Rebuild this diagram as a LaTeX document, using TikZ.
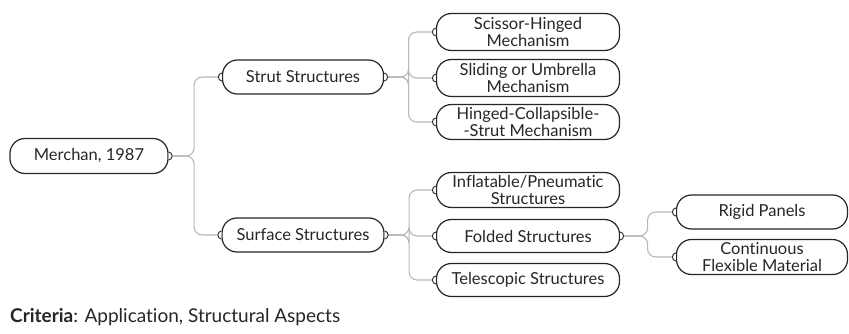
\documentclass[tikz,border=0pt]{standalone}
\usepackage{fontspec}
\setmainfont{Lato}[Ligatures=NoCommon]
\usetikzlibrary{calc}
\tikzset{
  x=1pt, y=-1pt,
  box/.style={draw=black!85, line width=1.2pt, rounded corners=15pt,
    fill=white, align=center, inner sep=0pt, text=black!85,
    font=\fontsize{16.5}{17.5}\selectfont},
  conn/.style={draw=black!28, line width=1.1pt, rounded corners=8pt},
  hdl/.style={draw=black!85, line width=0.9pt, fill=white},
}
% small attachment handles on the box ends
\newcommand{\lhandle}[1]{\draw[hdl] ($(#1.west)+(0,-4)$) arc[start angle=90, end angle=270, x radius=3.5pt, y radius=4pt];}
\newcommand{\rhandle}[1]{\draw[hdl] ($(#1.east)+(0,-4)$) arc[start angle=90, end angle=-90, x radius=3.5pt, y radius=4pt];}
\begin{document}
\begin{tikzpicture}
\useasboundingbox (0,0) rectangle (849,334);

% root
\node[box, minimum width=158pt, minimum height=35pt] (m) at (89,156) {Merchan, 1987};

% first level
\node[box, minimum width=161pt, minimum height=34pt] (s1) at (303,77) {Strut Structures};
\node[box, minimum width=162pt, minimum height=34pt] (s2) at (303,235) {Surface Structures};

% strut branch
\node[box, minimum width=183pt, minimum height=37pt] (a1) at (528,32) {Scissor-Hinged\\Mechanism};
\node[box, minimum width=183pt, minimum height=37pt] (a2) at (528,78) {Sliding or Umbrella\\Mechanism};
\node[box, minimum width=183pt, minimum height=35pt] (a3) at (528,122) {Hinged-Collapsible-\\-Strut Mechanism};

% surface branch
\node[box, minimum width=183pt, minimum height=35pt] (b1) at (528,190) {Inflatable/Pneumatic\\Structures};
\node[box, minimum width=183pt, minimum height=33pt] (b2) at (528,236) {Folded Structures};
\node[box, minimum width=183pt, minimum height=33pt] (b3) at (528,280) {Telescopic Structures};

% folded branch
\node[box, minimum width=171pt, minimum height=34pt] (c1) at (762,212) {Rigid Panels};
\node[box, minimum width=171pt, minimum height=35pt] (c2) at (762,257) {Continuous\\Flexible Material};

% connectors
\foreach \p/\c/\d in {m/s1/22, m/s2/22, s1/a1/21, s1/a2/21, s1/a3/21,
                      s2/b1/21, s2/b2/21, s2/b3/21, b2/c1/24, b2/c2/24}{
  \draw[conn] ($(\p.east)+(3.5,0)$) -- ++(\d,0) |- ($(\c.west)+(-3.5,0)$);
}

% handles
\foreach \n in {m, s1, s2, b2}{ \rhandle{\n} }
\foreach \n in {s1, s2, a1, a2, a3, b1, b2, b3, c1, c2}{ \lhandle{\n} }

% caption
\node[anchor=base west, inner sep=0pt, text=black!85, font=\fontsize{19}{20}\selectfont] (crit) at (10,322)
  {\textbf{Criteria}: Application, Structural Aspects};
\end{tikzpicture}
\end{document}
